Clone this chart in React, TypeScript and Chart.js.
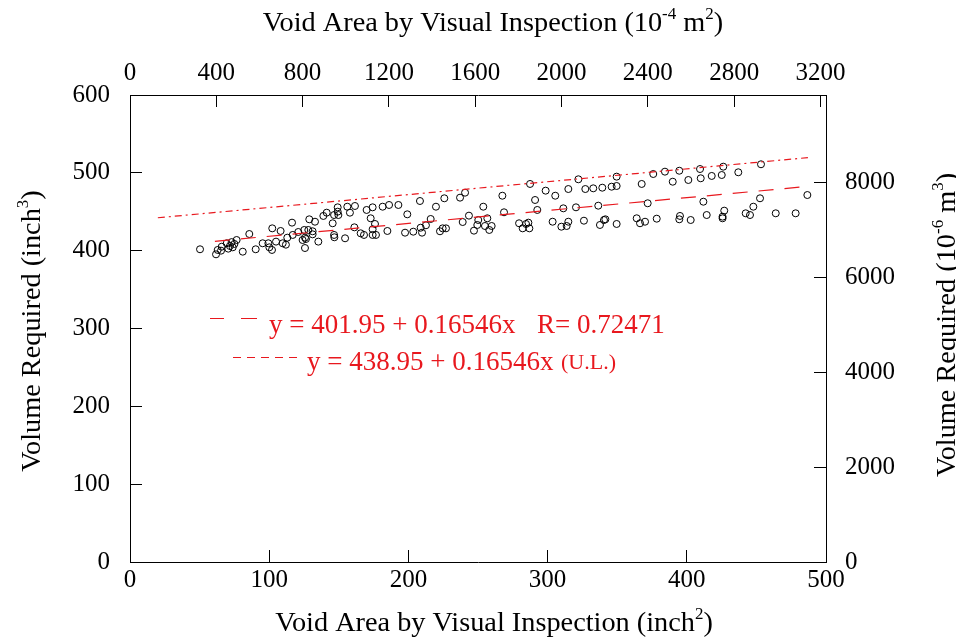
import React, { useEffect, useRef } from 'react';
import { Chart, registerables } from 'chart.js';

Chart.register(...registerables);

// Void area (inch^2) of each inspected specimen
const voidArea: number[] = [
  50.3, 61.8, 63, 65.9, 65.4, 69.5, 70.6, 71.8, 73, 73.8, 75, 76.6, 81, 85.7, 90.3, 95.3, 99.4, 100.1, 102, 102.2,
  104.9, 108.2, 109.7, 112, 113, 116.4, 116.9, 120.9, 124, 125.2, 125.7, 125.7, 126.4, 128.1, 128.8, 131.2, 131.2,
  132.9, 135.3, 138.9, 141.3, 145.6, 146.6, 146.8, 146.6, 149.2, 149.2, 149.7, 154.5, 156.1, 158, 161.2, 161.6,
  165.7, 168.1, 170, 172.9, 174.3, 174.3, 174.3, 176, 176.7, 181.5, 184.9, 186.1, 192.8, 197.6, 199.2,
  203.5, 208.3, 208.8, 209.8, 212.6, 216, 219.8, 222.7, 224.6, 225.8, 227, 237.1, 239, 240.7, 243.5, 247.1, 249.5,
  250.2, 253.8, 255, 256.7, 258.1, 259.8, 267.5, 268.7, 279.5, 282.1, 284.5, 286.2, 286.9, 287.4, 291, 292.6,
  298.6, 303.6, 305.5, 309.9, 311.3, 313.7, 314.9, 314.9, 320.4, 322.1, 326.1, 327.1, 332.8, 336.4, 337.6, 339.3,
  340.5, 341.5, 346, 349.6, 349.6, 349.6,
  364, 366.4, 367.6, 370, 371.9, 375.9, 378.4, 384.3, 389.9, 394.6, 395.1, 394.6, 401.1, 402.8, 409.5, 410, 411.9,
  414.3, 417.9, 425.1, 426.2, 425.7, 425.7, 426.9, 437, 442.3, 445.4, 447.8, 452.6, 453.3, 463.9, 478.2, 486.6,
];

// Volume required (inch^3), same order as voidArea
const volume: number[] = [
  401.8, 395.3, 400.9, 405.1, 400, 409.5, 402.6, 406, 411, 404.3, 408.6, 413.7, 398.7, 421.4, 401.8, 409.5, 409.5,
  404.3, 400.9, 428.7, 411.6, 425.3, 409.5, 407.7, 416.7, 436, 420.2, 424, 413.7, 426.6, 416.7, 403.4, 415, 426.6,
  440.3, 424.9, 421, 437.2, 411.6, 444.6, 448.8, 435.2, 420.2, 417.2, 445.8, 455.7, 450.1, 445.8, 415.9, 456.5,
  448.8, 430, 457.4, 422.3, 420.2, 452.3, 441.6, 455.7, 427.5, 420.2, 434.3, 420.2, 456.5, 425.3, 458.7, 458.7,
  423.1, 446.7,
  424.4, 463.8, 429.5, 423.1, 432.6, 440.7, 456.5, 424.9, 428.7, 467.3, 428.7, 468.1, 436.8, 474.5, 445, 425.7,
  433, 439.4, 456.5, 431.7, 441.6, 426.6, 431.7, 470.6, 449.3, 435.2, 428.7, 434.3, 436, 428.7, 485.7, 465.1,
  452.3, 477.1, 437.2, 470.6, 430.8, 454.4, 431.7, 437.2, 479.2, 455.7, 491.7, 438.5, 479.2, 480.1, 457.8, 433,
  480.9, 439.4, 440.3, 482.2, 495.1, 483.1, 434.3,
  441.6, 435.2, 485.7, 437.2, 460.9, 498.5, 441.1, 501.5, 488.6, 502.7, 444.6, 440.3, 490.8, 439.4, 504.9, 493,
  462.9, 445.8, 496, 497.2, 507.9, 443.7, 441.6, 451.4, 500.7, 448, 445.8, 456.5, 467.3, 511, 448, 448, 471.5,
];

// Regression line end points: y = 401.95 + 0.16546x
const fitX: number[] = [61, 488];
const fitY: number[] = [412.04, 482.69];
// Upper limit line end points: y = 438.95 + 0.16546x
const ulX: number[] = [20, 487];
const ulY: number[] = [442.26, 519.53];

// Axis ranges and tick values
const xRange: number[] = [0, 500];
const xTicks: number[] = [0, 100, 200, 300, 400, 500];
const x2Range: number[] = [0, 3225.8]; // 10^-4 m^2
const x2Ticks: number[] = [0, 400, 800, 1200, 1600, 2000, 2400, 2800, 3200];
const yRange: number[] = [0, 600];
const yTicks: number[] = [0, 100, 200, 300, 400, 500, 600];
const y2Range: number[] = [0, 9832.3]; // 10^-6 m^3
const y2Ticks: number[] = [0, 2000, 4000, 6000, 8000];

const legendLines: string[] = ['y = 401.95 + 0.16546x', 'R= 0.72471', 'y = 438.95 + 0.16546x', '(U.L.)'];

const RED = 'rgb(232,24,30)';
const FONT = '"Liberation Serif", "Times New Roman", serif';
const TICK_LEN = 12;

type Seg = { t: string; sup?: boolean };

function drawRich(ctx: CanvasRenderingContext2D, segs: Seg[], cx: number, baseY: number, size: number, rotate: boolean) {
  ctx.save();
  ctx.translate(cx, baseY);
  if (rotate) ctx.rotate(-Math.PI / 2);
  ctx.textAlign = 'left';
  ctx.textBaseline = 'alphabetic';
  ctx.fillStyle = '#000';
  const supSize = size * 0.6;
  let total = 0;
  const widths = segs.map((s) => {
    ctx.font = `${s.sup ? supSize : size}px ${FONT}`;
    const w = ctx.measureText(s.t).width;
    total += w;
    return w;
  });
  let x = -total / 2;
  segs.forEach((s, i) => {
    ctx.font = `${s.sup ? supSize : size}px ${FONT}`;
    ctx.fillText(s.t, x, s.sup ? -size * 0.42 : 0);
    x += widths[i];
  });
  ctx.restore();
}

const decorPlugin = {
  id: 'decor',
  afterDraw(chart: any) {
    const ctx: CanvasRenderingContext2D = chart.ctx;
    ctx.save();

    // axis titles
    const TS = 28.3;
    drawRich(ctx, [{ t: 'Void Area by Visual Inspection (inch' }, { t: '2', sup: true }, { t: ')' }], 494, 631, TS, false);
    drawRich(ctx, [{ t: 'Void Area by Visual Inspection (10' }, { t: '-4', sup: true }, { t: ' m' }, { t: '2', sup: true }, { t: ')' }], 493, 31, TS, false);
    drawRich(ctx, [{ t: 'Volume Required (inch' }, { t: '3', sup: true }, { t: ')' }], 40, 331, TS, true);
    drawRich(ctx, [{ t: 'Volume Required (10' }, { t: '-6', sup: true }, { t: ' m' }, { t: '3', sup: true }, { t: ')' }], 955, 325, TS, true);

    // legend / equations
    ctx.strokeStyle = RED;
    ctx.fillStyle = RED;
    ctx.lineWidth = 1.2;
    ctx.setLineDash([]);
    ctx.beginPath();
    ctx.moveTo(210, 318.5);
    ctx.lineTo(224, 318.5);
    ctx.moveTo(241, 318.5);
    ctx.lineTo(257, 318.5);
    ctx.stroke();
    ctx.setLineDash([8, 6]);
    ctx.beginPath();
    ctx.moveTo(233, 357.5);
    ctx.lineTo(301, 357.5);
    ctx.stroke();
    ctx.setLineDash([]);
    ctx.textAlign = 'left';
    ctx.textBaseline = 'alphabetic';
    ctx.font = `27px ${FONT}`;
    ctx.fillText(legendLines[0], 269, 333);
    ctx.fillText(legendLines[1], 537, 333);
    ctx.fillText(legendLines[2], 307, 370);
    ctx.font = `22px ${FONT}`;
    ctx.fillText(legendLines[3], 561, 369);
    ctx.restore();
  },
};

const fixedTicks = (vals: number[]) => (s: any) => {
  s.ticks = vals.map((v) => ({ value: v }));
};

// tick marks pointing into the plot area
const innerGrid = {
  display: true,
  drawOnChartArea: false,
  drawTicks: true,
  tickLength: -TICK_LEN,
  tickColor: '#000',
  tickWidth: 1,
  color: '#000',
  lineWidth: 1,
};

export default function App() {
  const ref = useRef<HTMLCanvasElement | null>(null);
  useEffect(() => {
    if (!ref.current) return;
    const tickFont = { family: FONT, size: 25 };
    const fmt = (v: any) => String(v);
    const chart = new Chart(ref.current, {
      type: 'scatter',
      data: {
        datasets: [
          {
            type: 'line',
            data: fitX.map((x, i) => ({ x, y: fitY[i] })),
            borderColor: RED,
            borderWidth: 1.2,
            borderDash: [15, 11],
            pointRadius: 0,
            fill: false,
            xAxisID: 'x',
            yAxisID: 'y',
          } as any,
          {
            type: 'line',
            data: ulX.map((x, i) => ({ x, y: ulY[i] })),
            borderColor: RED,
            borderWidth: 1.2,
            borderDash: [7, 4, 2, 4],
            pointRadius: 0,
            fill: false,
            xAxisID: 'x',
            yAxisID: 'y',
          } as any,
          {
            data: voidArea.map((x, i) => ({ x, y: volume[i] })),
            pointStyle: 'circle',
            pointRadius: 3.5,
            pointBorderWidth: 1,
            borderColor: '#000',
            backgroundColor: 'rgba(0,0,0,0)',
            pointBackgroundColor: 'rgba(0,0,0,0)',
            xAxisID: 'x',
            yAxisID: 'y',
          } as any,
        ],
      },
      options: {
        animation: false,
        responsive: false,
        devicePixelRatio: 1,
        layout: { padding: 0 },
        plugins: { legend: { display: false }, tooltip: { enabled: false }, title: { display: false } },
        scales: {
          x: {
            type: 'linear',
            position: 'bottom',
            min: xRange[0],
            max: xRange[1],
            afterBuildTicks: fixedTicks(xTicks),
            ticks: { font: tickFont, color: '#000', padding: 3 + TICK_LEN, maxRotation: 0, autoSkip: false, callback: fmt },
            grid: innerGrid,
            border: { display: true, color: '#000', width: 1 },
            afterFit: (s: any) => { s.height = 78; },
          },
          x2: {
            type: 'linear',
            position: 'top',
            min: x2Range[0],
            max: x2Range[1],
            afterBuildTicks: fixedTicks(x2Ticks),
            ticks: { font: tickFont, color: '#000', padding: 7 + TICK_LEN, maxRotation: 0, autoSkip: false, callback: fmt },
            grid: innerGrid,
            border: { display: true, color: '#000', width: 1 },
            afterFit: (s: any) => { s.height = 95; },
          },
          y: {
            type: 'linear',
            position: 'left',
            min: yRange[0],
            max: yRange[1],
            afterBuildTicks: fixedTicks(yTicks),
            ticks: { font: tickFont, color: '#000', padding: 20 + TICK_LEN, autoSkip: false, callback: fmt },
            grid: innerGrid,
            border: { display: true, color: '#000', width: 1 },
            afterFit: (s: any) => { s.width = 130; },
          },
          y2: {
            type: 'linear',
            position: 'right',
            min: y2Range[0],
            max: y2Range[1],
            afterBuildTicks: fixedTicks(y2Ticks),
            ticks: { font: tickFont, color: '#000', padding: 19 + TICK_LEN, autoSkip: false, callback: fmt },
            grid: innerGrid,
            border: { display: true, color: '#000', width: 1 },
            afterFit: (s: any) => { s.width = 130; },
          },
        },
      },
      plugins: [decorPlugin],
    });
    return () => chart.destroy();
  }, []);
  return (
    <div style={{ position: 'fixed', left: 0, top: 0, width: 956, height: 640, background: '#fff' }}>
      <canvas ref={ref} width={956} height={640} style={{ width: 956, height: 640 }} />
    </div>
  );
}
